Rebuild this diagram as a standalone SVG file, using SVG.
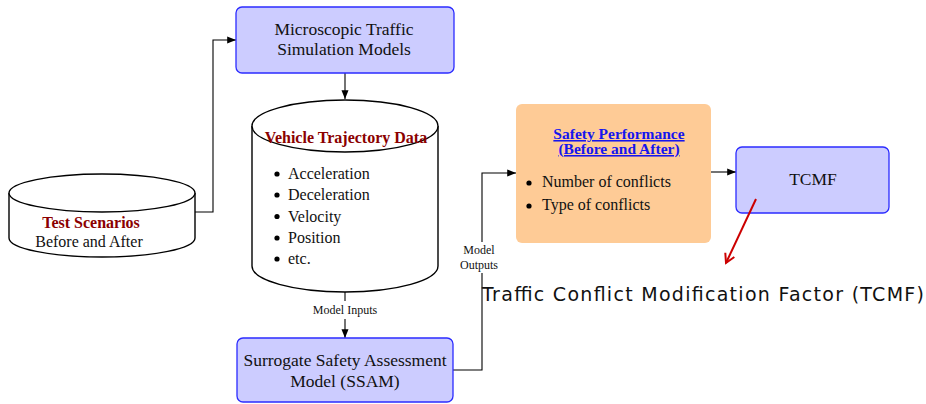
<svg xmlns="http://www.w3.org/2000/svg" width="926" height="404" viewBox="0 0 926 404">
<style>
.box{fill:#ccccff;stroke:#2b2bff;stroke-width:1.3}
.cyl{fill:#ffffff;stroke:#000;stroke-width:1.4}
.t{font-family:"Liberation Serif","Times New Roman",serif;fill:#111;text-anchor:middle}
.tl{font-family:"Liberation Serif","Times New Roman",serif;fill:#111}
.bx{font-size:17.5px}
.b16{font-size:16px}
.lab{font-size:12px}
.red{font-weight:bold;fill:#8b0000}
.ttl{font-size:15.5px;font-weight:bold;fill:#1515ee;text-decoration:underline}
.conn{fill:none;stroke:#000;stroke-width:1.1}
</style>
<defs>
<marker id="ah" viewBox="0 0 10 10" refX="10" refY="5" markerWidth="8" markerHeight="8" orient="auto">
<path d="M0,1 L10,5 L0,9 z" fill="#000"/>
</marker>
<marker id="rh" viewBox="0 0 12 12" refX="10" refY="6" markerWidth="12" markerHeight="12" markerUnits="userSpaceOnUse" orient="auto">
<path d="M1,1 L10,6 L1,11" fill="none" stroke="#cc0000" stroke-width="2"/>
</marker>
</defs>

<g id="connectors">
<path class="conn" d="M195,212 H213 V40 H236" marker-end="url(#ah)"/>
<path class="conn" d="M345,73 V99" marker-end="url(#ah)"/>
<path class="conn" d="M345,292 V301"/>
<path class="conn" d="M345,319 V338" marker-end="url(#ah)"/>
<path class="conn" d="M453,370 H482 V273"/>
<path class="conn" d="M482,242 V173 H516" marker-end="url(#ah)"/>
<path class="conn" d="M711,172 H736" marker-end="url(#ah)"/>
<text class="t lab" x="345" y="314">Model Inputs</text>
<text class="t lab" x="479" y="254">Model</text>
<text class="t lab" x="479" y="269">Outputs</text>
</g>

<g id="test-scenarios">
<path class="cyl" d="M9,193 L9,238 A93,19 0 0 0 195,238 L195,193"/>
<ellipse class="cyl" cx="102" cy="193" rx="93" ry="19"/>
<text class="t b16 red" x="91" y="228">Test Scenarios</text>
<text class="t b16" x="89" y="247">Before and After</text>
</g>

<g id="microscopic">
<rect class="box" x="236" y="7" width="218" height="66" rx="6"/>
<text class="t bx" x="344" y="35">Microscopic Traffic</text>
<text class="t bx" x="344" y="55">Simulation Models</text>
</g>

<g id="vehicle-trajectory">
<path class="cyl" d="M252,126 L252,266 A93,26 0 0 0 438,266 L438,126"/>
<ellipse class="cyl" cx="345" cy="126" rx="93" ry="26"/>
<text class="t b16 red" x="346" y="143">Vehicle Trajectory Data</text>
<g fill="#000">
<circle cx="277" cy="174" r="2.6"/>
<circle cx="277" cy="195" r="2.6"/>
<circle cx="277" cy="216.5" r="2.6"/>
<circle cx="277" cy="238" r="2.6"/>
<circle cx="277" cy="259" r="2.6"/>
</g>
<text class="tl b16" x="288" y="179">Acceleration</text>
<text class="tl b16" x="288" y="200">Deceleration</text>
<text class="tl b16" x="288" y="221.5">Velocity</text>
<text class="tl b16" x="288" y="243">Position</text>
<text class="tl b16" x="288" y="264">etc.</text>
</g>

<g id="ssam">
<rect class="box" x="237" y="338" width="216" height="64" rx="6"/>
<text class="t bx" x="345" y="366">Surrogate Safety Assessment</text>
<text class="t bx" x="345" y="387">Model (SSAM)</text>
</g>

<g id="safety-performance">
<rect x="516" y="104" width="195" height="139" rx="6" fill="#fecb96"/>
<text class="t ttl" x="619" y="139">Safety Performance</text>
<text class="t ttl" x="619" y="154">(Before and After)</text>
<circle cx="529" cy="183" r="2.6" fill="#000"/>
<circle cx="529" cy="206" r="2.6" fill="#000"/>
<text class="tl b16" x="542" y="187">Number of conflicts</text>
<text class="tl b16" x="542" y="210">Type of conflicts</text>
</g>

<g id="tcmf">
<rect class="box" x="736" y="147" width="153" height="66" rx="6"/>
<text class="t bx" x="813" y="185">TCMF</text>
<path d="M756,199 L726,263" fill="none" stroke="#cc0000" stroke-width="2" marker-end="url(#rh)"/>
</g>

<text x="482" y="301" font-family="'DejaVu Sans',Verdana,sans-serif" font-size="19" fill="#111" textLength="442" lengthAdjust="spacing">Traffic Conflict Modification Factor (TCMF)</text>
</svg>
